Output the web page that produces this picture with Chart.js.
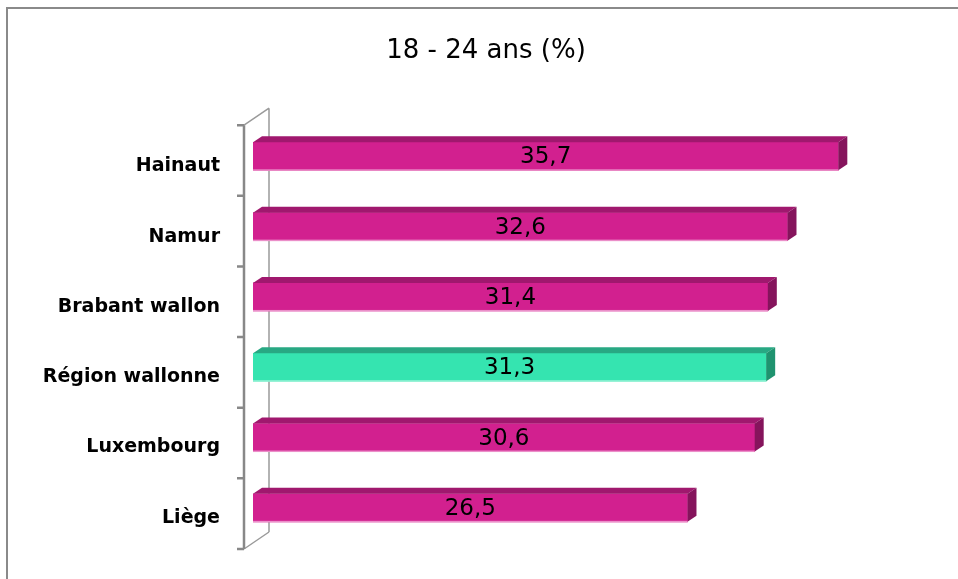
<!DOCTYPE html>
<html>
<head>
<meta charset="utf-8">
<script src="https://cdn.jsdelivr.net/npm/chart.js@4"></script>
<style>
    body { margin: 0; background: #ffffff; }
    canvas { display: block; }
</style>
</head>
<body>
<canvas id="ageChart" width="958" height="579"></canvas>
<script>
// ======================================================
// DATA
// ======================================================
const categories = ["Hainaut", "Namur", "Brabant wallon", "Région wallonne", "Luxembourg", "Liège"];
const values = [35.7, 32.6, 31.4, 31.3, 30.6, 26.5];
const highlighted = ["Région wallonne"];
const chartTitle = "18 - 24 ans (%)";

const pink = { face: "#d2208f", top: "#a0186e", side: "#85145c", edge: "#eb8fc9" };
const green = { face: "#35e4b0", top: "#28a883", side: "#1f936f", edge: "#98f2d6" };

const palette = categories.map(c => highlighted.includes(c) ? green : pink);

const DEPTH_X = 9;
const DEPTH_Y = 6;


// ======================================================
// 3D LOOK + FRAME + VALUE LABELS
// ======================================================
const decorPlugin = {

    id: "decor",

    beforeDraw(chart) {
        const c = chart.ctx;
        const a = chart.chartArea;

        c.save();
        c.fillStyle = "#ffffff";
        c.fillRect(0, 0, chart.width, chart.height);

        // outer frame (left + top)
        c.strokeStyle = "#8a8a8a";
        c.lineWidth = 2;
        c.beginPath();
        c.moveTo(7, chart.height);
        c.lineTo(7, 8);
        c.lineTo(chart.width, 8);
        c.stroke();

        // front axis, back wall line, diagonals
        const fx = a.left - 9;
        const fTop = a.top + 4;
        const fBot = a.bottom + 6;
        const bx = a.left + 16;
        const bTop = fTop - 17;
        const bBot = fBot - 17;

        c.strokeStyle = "#9a9a9a";
        c.lineWidth = 1.5;
        c.beginPath();
        c.moveTo(bx, bTop);
        c.lineTo(bx, bBot);
        c.moveTo(fx, fTop);
        c.lineTo(bx, bTop);
        c.moveTo(fx, fBot);
        c.lineTo(bx, bBot);
        c.stroke();

        c.strokeStyle = "#888888";
        c.lineWidth = 2.5;
        c.beginPath();
        c.moveTo(fx, fTop);
        c.lineTo(fx, fBot);
        const n = categories.length;
        for (let i = 0; i <= n; i++) {
            const ty = fTop + (fBot - fTop) * i / n;
            c.moveTo(fx - 7, ty);
            c.lineTo(fx, ty);
        }
        c.stroke();
        c.restore();
    },

    afterDatasetsDraw(chart) {
        const c = chart.ctx;
        const meta = chart.getDatasetMeta(0);

        c.save();
        meta.data.forEach((bar, i) => {
            const col = palette[i];
            const top = bar.y - bar.height / 2;
            const bottom = bar.y + bar.height / 2;
            const left = bar.base;
            const right = bar.x;

            // top face
            c.fillStyle = col.top;
            c.beginPath();
            c.moveTo(left, top);
            c.lineTo(left + DEPTH_X, top - DEPTH_Y);
            c.lineTo(right + DEPTH_X, top - DEPTH_Y);
            c.lineTo(right, top);
            c.closePath();
            c.fill();

            // side face
            c.fillStyle = col.side;
            c.beginPath();
            c.moveTo(right, top);
            c.lineTo(right + DEPTH_X, top - DEPTH_Y);
            c.lineTo(right + DEPTH_X, bottom - DEPTH_Y);
            c.lineTo(right, bottom);
            c.closePath();
            c.fill();

            // light bottom edge
            c.fillStyle = col.edge;
            c.fillRect(left, bottom - 1, right - left, 1.5);

            // value
            c.fillStyle = "#000000";
            c.font = "23px 'DejaVu Sans'";
            c.textAlign = "center";
            c.textBaseline = "middle";
            c.fillText(values[i].toFixed(1).replace(".", ","), (left + right) / 2, bar.y + 1);
        });
        c.restore();
    }
};


// ======================================================
// BAR CHART
// ======================================================
new Chart(document.getElementById("ageChart"), {

    type: "bar",

    data: {
        labels: categories,
        datasets: [{
            data: values,
            backgroundColor: palette.map(p => p.face),
            borderWidth: 0,
            barThickness: 28
        }]
    },

    options: {

        indexAxis: "y",
        responsive: false,
        animation: false,
        devicePixelRatio: 1,

        layout: {
            padding: { left: 14, right: 0, top: 0, bottom: 36 }
        },

        plugins: {
            legend: { display: false },
            tooltip: { enabled: false },
            title: {
                display: true,
                text: chartTitle,
                color: "#000000",
                font: { family: "'DejaVu Sans'", size: 26, weight: "normal", lineHeight: 1.2 },
                padding: { top: 36, bottom: 54 }
            }
        },

        scales: {

            x: {
                display: false,
                min: 0,
                max: 43
            },

            y: {
                grid: { display: false, drawTicks: false },
                border: { display: false },
                ticks: {
                    color: "#000000",
                    padding: 33,
                    labelOffset: 10,
                    font: { family: "'DejaVu Sans'", size: 19, weight: "bold" }
                },
                afterFit(scale) {
                    scale.width = 239;
                    scale.paddingTop = 0;
                    scale.paddingBottom = 0;
                }
            }
        }
    },

    plugins: [decorPlugin]
});
</script>
</body>
</html>
